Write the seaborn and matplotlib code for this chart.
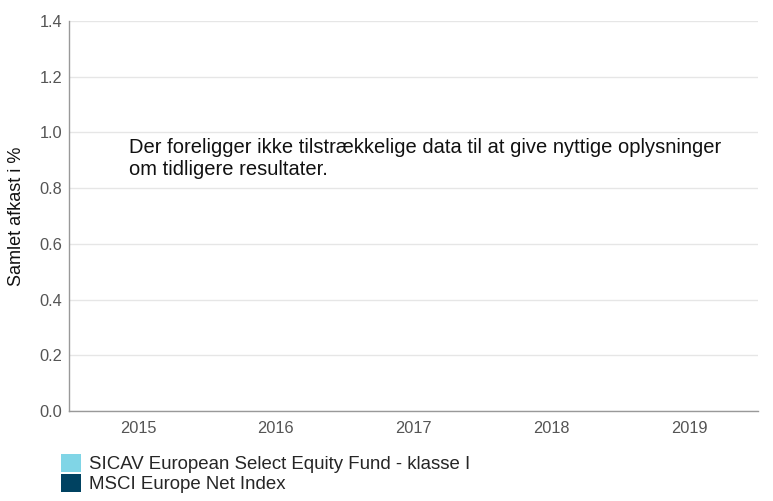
import numpy as np
import pandas as pd
import seaborn as sns
import matplotlib.pyplot as plt
from matplotlib.patches import Patch

years = ['2015', '2016', '2017', '2018', '2019']
fund_name = 'SICAV European Select Equity Fund - klasse I'
index_name = 'MSCI Europe Net Index'
# no performance data available yet
fund_values = [np.nan, np.nan, np.nan, np.nan, np.nan]
index_values = [np.nan, np.nan, np.nan, np.nan, np.nan]
colors = ['#80d5e6', '#004261']
y_ticks = [0.0, 0.2, 0.4, 0.6, 0.8, 1.0, 1.2, 1.4]
message = 'Der foreligger ikke tilstrækkelige data til at give nyttige oplysninger\nom tidligere resultater.'

df = pd.DataFrame({
    'År': years * 2,
    'Afkast': fund_values + index_values,
    'Serie': [fund_name] * 5 + [index_name] * 5,
})

sns.set_style('white')
plt.rcParams['font.family'] = ['Liberation Sans', 'DejaVu Sans']

fig = plt.figure(figsize=(7.73, 5.01), dpi=100)
ax = fig.add_axes([69 / 773, 90 / 501, 689 / 773, 390 / 501])

plot_df = df.dropna()
if len(plot_df):
    sns.barplot(data=plot_df, x='År', y='Afkast', hue='Serie', palette=colors, ax=ax, legend=False)
ax.set_xticks(range(len(years)))
ax.set_xticklabels(years)
ax.set_xlim(-0.5, len(years) - 0.5)
ax.set_ylim(0, 1.4)
ax.set_yticks(y_ticks)
ax.set_yticklabels([f'{v:.1f}' for v in y_ticks])
ax.grid(axis='y', color='#e6e6e6', linewidth=1)
ax.set_axisbelow(True)
for s in ['top', 'right']:
    ax.spines[s].set_visible(False)
for s in ['left', 'bottom']:
    ax.spines[s].set_color('#999999')
    ax.spines[s].set_linewidth(1)
ax.tick_params(axis='both', length=0, colors='#555555', labelsize=11.8)
ax.tick_params(axis='x', pad=7)
ax.tick_params(axis='y', pad=5)
ax.set_xlabel('')
ax.set_ylabel('Samlet afkast i %', fontsize=13, color='#111111', labelpad=10)

ax.text(129 / 773, 1 - 138 / 501, message, transform=fig.transFigure, ha='left', va='top',
        fontsize=14.5, color='#111111', linespacing=1.2)

handles = [Patch(facecolor=c, edgecolor='none') for c in colors]
fig.legend(handles, [fund_name, index_name], loc='upper left', bbox_to_anchor=(61 / 773, 1 - 454 / 501),
           frameon=False, fontsize=13.4, handlelength=1.1, handleheight=1.1, handletextpad=0.4,
           labelspacing=0.05, borderaxespad=0, borderpad=0)

fig.savefig('out.png', dpi=100)
